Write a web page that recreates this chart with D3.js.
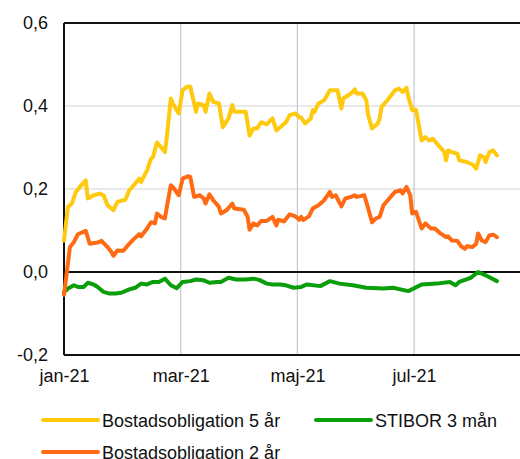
<!DOCTYPE html>
<html>
<head>
<meta charset="utf-8">
<script src="https://cdn.jsdelivr.net/npm/d3@7"></script>
<style>
  body { margin: 0; background: #fff; }
  svg { font-family: "Liberation Sans", Arial, sans-serif; }
</style>
</head>
<body>
<script>
// series values: [date, percent]
var bostad5 = [
  ["2021-01-01", 0.076], ["2021-01-03", 0.157], ["2021-01-05", 0.165], ["2021-01-07", 0.193],
  ["2021-01-09", 0.205], ["2021-01-12", 0.221], ["2021-01-13", 0.177], ["2021-01-16", 0.185],
  ["2021-01-19", 0.189], ["2021-01-21", 0.185], ["2021-01-23", 0.161], ["2021-01-26", 0.149],
  ["2021-01-28", 0.169], ["2021-02-01", 0.174], ["2021-02-03", 0.197], ["2021-02-06", 0.213],
  ["2021-02-08", 0.225], ["2021-02-09", 0.217], ["2021-02-12", 0.245], ["2021-02-14", 0.273],
  ["2021-02-15", 0.277], ["2021-02-17", 0.312], ["2021-02-19", 0.301], ["2021-02-21", 0.289],
  ["2021-02-22", 0.325], ["2021-02-24", 0.418], ["2021-02-25", 0.406], ["2021-02-28", 0.382],
  ["2021-03-02", 0.438], ["2021-03-04", 0.446], ["2021-03-06", 0.447], ["2021-03-09", 0.386],
  ["2021-03-10", 0.406], ["2021-03-13", 0.402], ["2021-03-14", 0.386], ["2021-03-16", 0.430],
  ["2021-03-18", 0.410], ["2021-03-21", 0.406], ["2021-03-23", 0.349], ["2021-03-26", 0.370],
  ["2021-03-28", 0.402], ["2021-03-29", 0.386], ["2021-04-04", 0.386], ["2021-04-06", 0.329],
  ["2021-04-08", 0.346], ["2021-04-10", 0.346], ["2021-04-12", 0.361], ["2021-04-15", 0.356],
  ["2021-04-18", 0.370], ["2021-04-20", 0.341], ["2021-04-22", 0.349], ["2021-04-25", 0.361],
  ["2021-04-27", 0.378], ["2021-04-30", 0.382], ["2021-05-02", 0.373], ["2021-05-03", 0.372],
  ["2021-05-05", 0.358], ["2021-05-08", 0.370], ["2021-05-09", 0.390], ["2021-05-10", 0.386],
  ["2021-05-12", 0.406], ["2021-05-15", 0.414], ["2021-05-18", 0.438], ["2021-05-22", 0.438],
  ["2021-05-24", 0.394], ["2021-05-25", 0.418], ["2021-05-29", 0.430], ["2021-05-31", 0.440],
  ["2021-06-01", 0.430], ["2021-06-04", 0.430], ["2021-06-06", 0.414], ["2021-06-07", 0.378],
  ["2021-06-09", 0.346], ["2021-06-12", 0.358], ["2021-06-13", 0.370], ["2021-06-14", 0.398],
  ["2021-06-17", 0.414], ["2021-06-19", 0.426], ["2021-06-21", 0.438], ["2021-06-23", 0.442],
  ["2021-06-25", 0.434], ["2021-06-27", 0.444], ["2021-06-28", 0.422], ["2021-06-30", 0.390],
  ["2021-07-02", 0.391], ["2021-07-05", 0.317], ["2021-07-07", 0.325], ["2021-07-09", 0.317],
  ["2021-07-11", 0.321], ["2021-07-14", 0.305], ["2021-07-17", 0.289], ["2021-07-18", 0.269],
  ["2021-07-19", 0.293], ["2021-07-21", 0.289], ["2021-07-24", 0.285], ["2021-07-25", 0.269],
  ["2021-07-29", 0.265], ["2021-08-01", 0.259], ["2021-08-03", 0.249], ["2021-08-05", 0.281],
  ["2021-08-07", 0.277], ["2021-08-08", 0.265], ["2021-08-10", 0.289], ["2021-08-12", 0.293],
  ["2021-08-14", 0.281]
];

var bostad2 = [
  ["2021-01-01", -0.055], ["2021-01-04", 0.060], ["2021-01-06", 0.072], ["2021-01-08", 0.091],
  ["2021-01-12", 0.099], ["2021-01-14", 0.068], ["2021-01-18", 0.071], ["2021-01-20", 0.075],
  ["2021-01-23", 0.060], ["2021-01-25", 0.048], ["2021-01-26", 0.039], ["2021-01-28", 0.052],
  ["2021-01-31", 0.051], ["2021-02-03", 0.068], ["2021-02-05", 0.078], ["2021-02-08", 0.091],
  ["2021-02-09", 0.086], ["2021-02-12", 0.105], ["2021-02-14", 0.120], ["2021-02-16", 0.117],
  ["2021-02-17", 0.141], ["2021-02-19", 0.133], ["2021-02-21", 0.129], ["2021-02-22", 0.157],
  ["2021-02-24", 0.209], ["2021-02-25", 0.205], ["2021-02-28", 0.185], ["2021-03-02", 0.225],
  ["2021-03-05", 0.231], ["2021-03-06", 0.229], ["2021-03-08", 0.181], ["2021-03-11", 0.185],
  ["2021-03-13", 0.177], ["2021-03-14", 0.165], ["2021-03-16", 0.187], ["2021-03-18", 0.173],
  ["2021-03-21", 0.157], ["2021-03-22", 0.141], ["2021-03-25", 0.149], ["2021-03-28", 0.165],
  ["2021-03-29", 0.153], ["2021-04-03", 0.150], ["2021-04-05", 0.133], ["2021-04-06", 0.102],
  ["2021-04-08", 0.117], ["2021-04-10", 0.112], ["2021-04-12", 0.123], ["2021-04-15", 0.123],
  ["2021-04-18", 0.133], ["2021-04-20", 0.112], ["2021-04-21", 0.126], ["2021-04-24", 0.122],
  ["2021-04-27", 0.139], ["2021-04-30", 0.134], ["2021-05-02", 0.126], ["2021-05-03", 0.133],
  ["2021-05-04", 0.125], ["2021-05-07", 0.134], ["2021-05-09", 0.153], ["2021-05-12", 0.161],
  ["2021-05-15", 0.173], ["2021-05-18", 0.193], ["2021-05-19", 0.181], ["2021-05-21", 0.185],
  ["2021-05-24", 0.158], ["2021-05-26", 0.177], ["2021-05-29", 0.181], ["2021-05-31", 0.185],
  ["2021-06-01", 0.181], ["2021-06-05", 0.185], ["2021-06-07", 0.153], ["2021-06-09", 0.120],
  ["2021-06-11", 0.129], ["2021-06-13", 0.133], ["2021-06-15", 0.161], ["2021-06-18", 0.177],
  ["2021-06-21", 0.193], ["2021-06-24", 0.197], ["2021-06-25", 0.189], ["2021-06-27", 0.205],
  ["2021-06-29", 0.185], ["2021-06-30", 0.141], ["2021-07-02", 0.145], ["2021-07-05", 0.105],
  ["2021-07-07", 0.117], ["2021-07-10", 0.105], ["2021-07-12", 0.105], ["2021-07-15", 0.093],
  ["2021-07-18", 0.084], ["2021-07-19", 0.086], ["2021-07-21", 0.076], ["2021-07-24", 0.075],
  ["2021-07-26", 0.062], ["2021-07-28", 0.056], ["2021-07-29", 0.062], ["2021-08-01", 0.060],
  ["2021-08-03", 0.068], ["2021-08-04", 0.093], ["2021-08-06", 0.076], ["2021-08-08", 0.072],
  ["2021-08-10", 0.088], ["2021-08-12", 0.090], ["2021-08-14", 0.084]
];

var stibor3 = [
  ["2021-01-01", -0.048], ["2021-01-03", -0.040], ["2021-01-06", -0.032], ["2021-01-08", -0.036],
  ["2021-01-11", -0.036], ["2021-01-13", -0.026], ["2021-01-16", -0.030], ["2021-01-18", -0.036],
  ["2021-01-21", -0.048], ["2021-01-24", -0.052], ["2021-01-27", -0.052], ["2021-01-30", -0.050],
  ["2021-02-03", -0.042], ["2021-02-06", -0.038], ["2021-02-09", -0.028], ["2021-02-12", -0.030],
  ["2021-02-15", -0.024], ["2021-02-18", -0.024], ["2021-02-21", -0.016], ["2021-02-24", -0.032],
  ["2021-02-27", -0.039], ["2021-03-02", -0.024], ["2021-03-06", -0.022], ["2021-03-09", -0.018],
  ["2021-03-13", -0.020], ["2021-03-16", -0.026], ["2021-03-20", -0.024], ["2021-03-22", -0.024],
  ["2021-03-26", -0.014], ["2021-03-30", -0.018], ["2021-04-04", -0.018], ["2021-04-08", -0.016],
  ["2021-04-11", -0.019], ["2021-04-15", -0.028], ["2021-04-18", -0.030], ["2021-04-22", -0.030],
  ["2021-04-25", -0.032], ["2021-04-29", -0.038], ["2021-05-03", -0.036], ["2021-05-06", -0.030],
  ["2021-05-13", -0.034], ["2021-05-18", -0.022], ["2021-05-23", -0.028], ["2021-05-30", -0.032],
  ["2021-06-06", -0.038], ["2021-06-15", -0.040], ["2021-06-20", -0.038], ["2021-06-28", -0.046],
  ["2021-07-05", -0.030], ["2021-07-13", -0.028], ["2021-07-20", -0.024], ["2021-07-23", -0.032],
  ["2021-07-25", -0.024], ["2021-07-31", -0.014], ["2021-08-04", 0.000], ["2021-08-08", -0.008],
  ["2021-08-14", -0.022]
];

var seriesNames = ["Bostadsobligation 5 år", "Bostadsobligation 2 år", "STIBOR 3 mån"];
var seriesColors = ["#ffc90e", "#ff6a13", "#0a9e0a"];

var xTickDates = ["2021-01-01", "2021-03-01", "2021-05-01", "2021-07-01", "2021-09-01"];
var xTickLabels = ["jan-21", "mar-21", "maj-21", "jul-21"];
var yTicks = [-0.2, 0, 0.2, 0.4, 0.6];

var parse = d3.timeParse("%Y-%m-%d");

// set the dimensions and margins of the graph
var margin = {top: 23, left: 64},
    step = 116.7,          // two months on the axis
    width = 470,
    height = 332;

var svg = d3.select("body").append("svg")
    .attr("width", 520)
    .attr("height", 459);

var g = svg.append("g")
    .attr("transform", "translate(" + margin.left + "," + margin.top + ")");

// the axis gives each two-month span the same length
var x = d3.scaleTime()
    .domain(xTickDates.map(parse))
    .range(xTickDates.map(function(d, i) { return i * step; }));

var y = d3.scaleLinear()
    .domain([-0.2, 0.6])
    .range([height, 0]);

// grid lines
g.selectAll(".hgrid")
    .data([0.2, 0.4])
    .enter().append("line")
    .attr("x1", 0).attr("x2", width)
    .attr("y1", function(d) { return y(d); })
    .attr("y2", function(d) { return y(d); })
    .attr("stroke", "#d4d4d4")
    .attr("stroke-width", 1.2);

g.selectAll(".vgrid")
    .data(xTickDates.slice(1, 4).map(parse))
    .enter().append("line")
    .attr("x1", function(d) { return x(d); })
    .attr("x2", function(d) { return x(d); })
    .attr("y1", 0).attr("y2", height)
    .attr("stroke", "#c8c8c8")
    .attr("stroke-width", 1.2);

// frame and zero line
g.append("line").attr("x1", 0).attr("x2", width).attr("y1", y(0.6)).attr("y2", y(0.6))
    .attr("stroke", "#111").attr("stroke-width", 2);
g.append("line").attr("x1", 0).attr("x2", width).attr("y1", y(-0.2)).attr("y2", y(-0.2))
    .attr("stroke", "#111").attr("stroke-width", 2);
g.append("line").attr("x1", 0).attr("x2", width).attr("y1", y(0)).attr("y2", y(0))
    .attr("stroke", "#111").attr("stroke-width", 2);
g.append("line").attr("x1", 0).attr("x2", 0).attr("y1", 0).attr("y2", height)
    .attr("stroke", "#111").attr("stroke-width", 2);

// lines
var line = d3.line()
    .x(function(d) { return x(parse(d[0])); })
    .y(function(d) { return y(d[1]); });

[stibor3, bostad2, bostad5].forEach(function(s, i) {
    var k = 2 - i;
    g.append("path")
        .datum(s)
        .attr("fill", "none")
        .attr("stroke", seriesColors[k])
        .attr("stroke-width", 4)
        .attr("stroke-linejoin", "round")
        .attr("stroke-linecap", "round")
        .attr("d", line);
});

// y axis labels
var yAxis = g.append("g")
    .call(d3.axisLeft(y).tickValues(yTicks).tickSize(0).tickPadding(16)
        .tickFormat(function(d) { return d3.format(".1f")(d).replace("−", "-").replace(".", ","); }));
yAxis.select(".domain").remove();
yAxis.selectAll("text").style("font-size", "18px").attr("fill", "#111")
    .attr("font-family", "Liberation Sans, Arial, sans-serif");

// x axis labels
var xAxis = g.append("g")
    .attr("transform", "translate(0," + height + ")")
    .call(d3.axisBottom(x).tickValues(xTickDates.slice(0, 4).map(parse)).tickSize(0).tickPadding(14)
        .tickFormat(function(d, i) { return xTickLabels[i]; }));
xAxis.select(".domain").remove();
xAxis.selectAll("text").style("font-size", "18px").attr("fill", "#111")
    .attr("font-family", "Liberation Sans, Arial, sans-serif");

// legend
var legendPos = [[43, 420], [43, 452], [316, 420]];
var legend = svg.selectAll(".legend")
    .data(seriesNames)
    .enter().append("g")
    .attr("transform", function(d, i) { return "translate(" + legendPos[i][0] + "," + legendPos[i][1] + ")"; });

legend.append("line")
    .attr("x1", 0).attr("x2", 55)
    .attr("stroke", function(d, i) { return seriesColors[i]; })
    .attr("stroke-width", 4)
    .attr("stroke-linecap", "round");

legend.append("text")
    .attr("x", 59)
    .attr("y", 7)
    .style("font-size", "18px")
    .attr("fill", "#111")
    .text(function(d) { return d; });
</script>
</body>
</html>
